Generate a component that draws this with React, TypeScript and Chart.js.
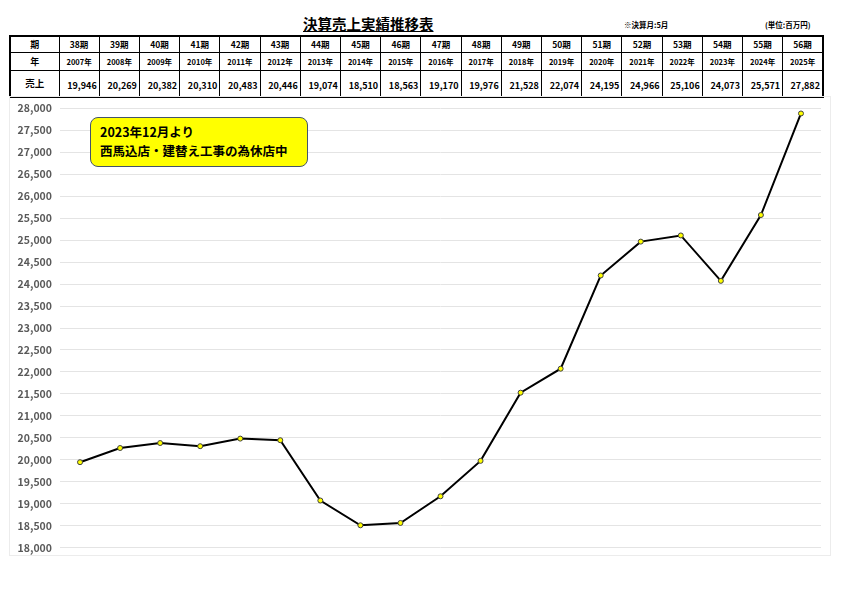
import React, { useEffect, useRef } from 'react';
import Chart from 'chart.js/auto';

const periods = ['38期', '39期', '40期', '41期', '42期', '43期', '44期', '45期', '46期', '47期', '48期', '49期', '50期', '51期', '52期', '53期', '54期', '55期', '56期'];
const years = ['2007年', '2008年', '2009年', '2010年', '2011年', '2012年', '2013年', '2014年', '2015年', '2016年', '2017年', '2018年', '2019年', '2020年', '2021年', '2022年', '2023年', '2024年', '2025年'];
const sales = [19946, 20269, 20382, 20310, 20483, 20446, 19074, 18510, 18563, 19170, 19976, 21528, 22074, 24195, 24966, 25106, 24073, 25571, 27882];

const FONT = '"Noto Sans CJK JP", "Noto Sans", sans-serif';

const SalesChart: React.FC = () => {
  const chartRef = useRef<HTMLCanvasElement>(null);
  const chartInstance = useRef<Chart | null>(null);

  useEffect(() => {
    if (!chartRef.current) return;
    if (chartInstance.current) chartInstance.current.destroy();
    const ctx = chartRef.current.getContext('2d');
    if (!ctx) return;

    chartInstance.current = new Chart(ctx, {
      type: 'line',
      data: {
        labels: years,
        datasets: [
          {
            label: '売上',
            data: sales,
            borderColor: '#000000',
            borderWidth: 2,
            backgroundColor: '#ffff00',
            pointBackgroundColor: '#ffff00',
            pointBorderColor: '#404040',
            pointBorderWidth: 1,
            pointRadius: 2.5,
            tension: 0
          }
        ]
      },
      options: {
        animation: false,
        responsive: false,
        maintainAspectRatio: false,
        layout: { padding: { top: 0, right: 10, bottom: 0, left: 0 } },
        plugins: { legend: { display: false }, tooltip: { enabled: false } },
        scales: {
          x: { display: false, offset: true },
          y: {
            min: 18000,
            max: 28000,
            afterFit: (s: any) => { s.width = 51; },
            border: { display: false },
            grid: { color: '#e4e4e4', lineWidth: 1, drawTicks: false },
            ticks: {
              stepSize: 500,
              padding: 8,
              color: '#595959',
              font: { family: FONT, size: 10.5, weight: 'bold' },
              callback: (v: any) => Number(v).toLocaleString('en-US')
            }
          }
        }
      }
    });

    return () => {
      if (chartInstance.current) chartInstance.current.destroy();
    };
  }, []);

  return <canvas ref={chartRef} width={822} height={468} style={{ width: 822, height: 468, display: 'block' }} />;
};

const cell: React.CSSProperties = {
  border: '1px solid #000',
  padding: 0,
  fontWeight: 'bold',
  textAlign: 'center',
  fontSize: 8.5
};

export default function App() {
  return (
    <div style={{ position: 'absolute', left: 0, top: 0, width: 842, height: 595, background: '#fff', fontFamily: FONT, overflow: 'hidden' }}>
      <div style={{ position: 'absolute', left: 303, top: 14, fontSize: 14.5, fontWeight: 'bold', textDecoration: 'underline', lineHeight: '20px' }}>
        決算売上実績推移表
      </div>
      <div style={{ position: 'absolute', left: 624, top: 19, fontSize: 7.5, fontWeight: 'bold', lineHeight: '12px' }}>※決算月:5月</div>
      <div style={{ position: 'absolute', left: 765, top: 19, fontSize: 7.5, fontWeight: 'bold', lineHeight: '12px' }}>(単位:百万円)</div>

      <table style={{ position: 'absolute', left: 9, top: 35, width: 815, borderCollapse: 'collapse', border: '2px solid #000', tableLayout: 'fixed' }}>
        <colgroup>
          <col style={{ width: 49 }} />
          {periods.map((p) => <col key={p} />)}
        </colgroup>
        <tbody>
          <tr style={{ height: 16 }}>
            <td style={{ ...cell, fontSize: 9 }}>期</td>
            {periods.map((p) => <td key={p} style={{ ...cell, fontSize: 8.5 }}>{p}</td>)}
          </tr>
          <tr style={{ height: 18 }}>
            <td style={{ ...cell, fontSize: 9 }}>年</td>
            {years.map((y) => <td key={y} style={{ ...cell, fontSize: 7.5 }}>{y}</td>)}
          </tr>
          <tr style={{ height: 27 }}>
            <td style={{ ...cell, fontSize: 9.5 }}>売上</td>
            {sales.map((v, i) => (
              <td key={i} style={{ ...cell, fontSize: 9, textAlign: 'right', paddingRight: 2, paddingTop: 4 }}>{v.toLocaleString('en-US')}</td>
            ))}
          </tr>
        </tbody>
      </table>

      <div style={{ position: 'absolute', left: 9, top: 96, width: 820, height: 458, border: '1px solid #ececec' }} />
      <div style={{ position: 'absolute', left: 9, top: 94 }}>
        <SalesChart />
      </div>

      <div style={{ position: 'absolute', left: 90, top: 117, width: 216, height: 48, background: '#ffff00', border: '1px solid #44546a', borderRadius: 8, boxSizing: 'content-box' }}>
        <div style={{ position: 'absolute', left: 9, top: 4, fontSize: 12.5, fontWeight: 'bold', lineHeight: '19px', whiteSpace: 'nowrap' }}>
          2023年12月より<br />西馬込店・建替え工事の為休店中
        </div>
      </div>
    </div>
  );
}
